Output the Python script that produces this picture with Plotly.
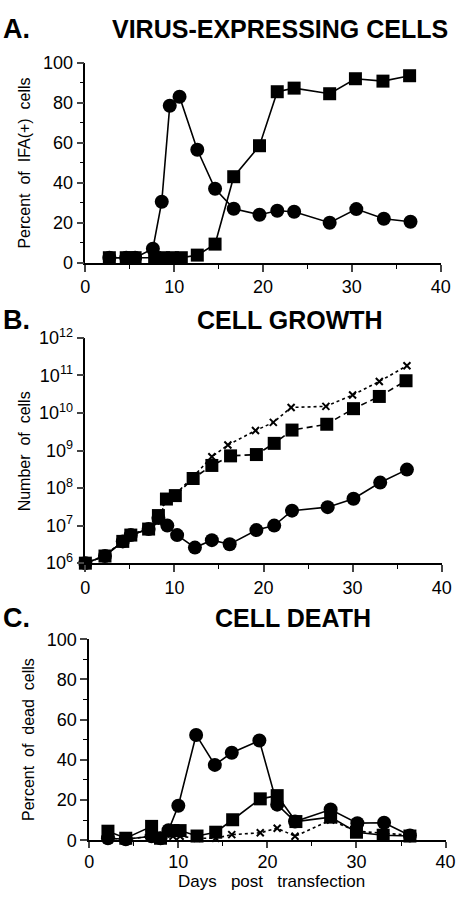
import plotly.graph_objects as go

W, H = 472, 900

# ---------------- Panel A: virus-expressing cells ----------------
a_circle_days = [2.7, 4.6, 5.6, 7.6, 8.6, 9.5, 10.6, 12.6, 14.6, 16.7, 19.6, 21.6, 23.5, 27.5, 30.5, 33.6, 36.6]
a_circle_vals = [2.5, 2.5, 2.5, 7, 30.5, 78.5, 83, 56.5, 37, 27, 24, 26, 25.5, 20, 26.8, 22, 20.5]
a_square_days = [2.7, 4.6, 5.6, 7.8, 8.8, 9.8, 10.8, 12.6, 14.6, 16.7, 19.6, 21.6, 23.5, 27.5, 30.4, 33.5, 36.5]
a_square_vals = [2.5, 2.5, 2.5, 2.5, 2.5, 2.5, 2.5, 3.8, 9.3, 43, 58.5, 85.5, 87.3, 84.5, 92, 90.8, 93.5]

# ---------------- Panel B: cell growth ----------------
b_circle_days = [0, 2.2, 4.2, 5.1, 7.1, 8.2, 9.2, 10.3, 12.3, 14.2, 16.2, 19.2, 21.2, 23.2, 27.2, 30.1, 33.1, 36.1]
b_circle_vals = [1e6, 1.55e6, 3.8e6, 5.6e6, 8.1e6, 1.6e7, 1.0e7, 5.6e6, 2.6e6, 4.1e6, 3.2e6, 7.6e6,
                 1.0e7, 2.5e7, 3.1e7, 5.2e7, 1.4e8, 3.1e8]
b_square_days = [0, 2.2, 4.2, 5.1, 7.1, 8.2, 9.1, 10.1, 12.1, 14.2, 16.3, 19.2, 21.2, 23.2, 27.1, 30.1, 33.0, 36.0]
b_square_vals = [1e6, 1.55e6, 3.8e6, 5.6e6, 8.1e6, 1.85e7, 5.1e7, 6.3e7, 1.8e8, 4.0e8, 7.2e8, 7.8e8,
                 1.55e9, 3.5e9, 5.0e9, 1.3e10, 2.75e10, 7.2e10]
b_cross_days = [0, 2.2, 4.2, 5.1, 7.1, 8.2, 9.1, 10.1, 12.1, 14.2, 16.0, 19.1, 21.1, 23.1, 27.0, 30.0, 33.0, 36.1]
b_cross_vals = [1e6, 1.6e6, 4e6, 5.8e6, 8.5e6, 1.3e7, 5.3e7, 6.8e7, 2.0e8, 6.8e8, 1.4e9, 3.4e9,
                5.6e9, 1.4e10, 1.5e10, 3.0e10, 6.9e10, 1.8e11]
b_tick_vals = [1e6, 1e7, 1e8, 1e9, 1e10, 1e11, 1e12]
b_tick_text = ["10<sup>6</sup>", "10<sup>7</sup>", "10<sup>8</sup>", "10<sup>9</sup>",
               "10<sup>10</sup>", "10<sup>11</sup>", "10<sup>12</sup>"]

# ---------------- Panel C: cell death ----------------
c_circle_days = [2.1, 4.1, 7.0, 8.0, 8.9, 10.0, 12.0, 14.1, 16.0, 19.1, 21.1, 23.1, 27.1, 30.1, 33.1, 36.0]
c_circle_vals = [1, 0.5, 2, 1, 5, 17.2, 52.4, 37.5, 43.5, 49.6, 17.7, 9.3, 15.3, 8.5, 8.7, 2.4]
c_square_days = [2.1, 4.1, 7.0, 8.0, 9.4, 10.2, 12.1, 14.2, 16.1, 19.2, 21.1, 23.2, 27.1, 30.0, 33.0, 36.0]
c_square_vals = [4.5, 1, 6.9, 1, 4.8, 4.8, 2.1, 4.0, 10.2, 20.6, 22.2, 9.3, 11.5, 4.0, 2.5, 2.1]
c_cross_days = [2.1, 4.1, 7.0, 8.0, 9.4, 10.2, 12.1, 14.2, 16.0, 19.2, 21.1, 23.1, 27.1, 30.0, 33.0, 36.0]
c_cross_vals = [1, 0.5, 2, 1, 2, 2, 1, 1, 2.8, 3.7, 6.0, 2.0, 10, 4.5, 3.5, 2.5]

x_ticks = [0, 10, 20, 30, 40]

FONT = "Liberation Sans, Arial, Helvetica, sans-serif"


def px_x(x):
    return x / W


def px_y(y):
    return 1 - y / H


fig = go.Figure()

line = dict(color="black", width=1.6)
circ = dict(symbol="circle", size=14, color="black")
sq = dict(symbol="square", size=13, color="black")
cross = dict(symbol="x-thin", size=7, color="black", line=dict(color="black", width=2))

# Panel A
fig.add_trace(go.Scatter(x=a_circle_days, y=a_circle_vals, mode="lines+markers", line=line,
                         marker=circ, xaxis="x", yaxis="y", cliponaxis=False))
fig.add_trace(go.Scatter(x=a_square_days, y=a_square_vals, mode="lines+markers", line=line,
                         marker=sq, xaxis="x", yaxis="y", cliponaxis=False))
# Panel B
fig.add_trace(go.Scatter(x=b_cross_days, y=b_cross_vals, mode="lines+markers",
                         line=dict(color="black", width=1.6, dash="dot"),
                         marker=cross, xaxis="x2", yaxis="y2", cliponaxis=False))
fig.add_trace(go.Scatter(x=b_square_days, y=b_square_vals, mode="lines+markers",
                         line=dict(color="black", width=1.6, dash="6px,4px"),
                         marker=sq, xaxis="x2", yaxis="y2", cliponaxis=False))
fig.add_trace(go.Scatter(x=b_circle_days, y=b_circle_vals, mode="lines+markers", line=line,
                         marker=circ, xaxis="x2", yaxis="y2", cliponaxis=False))
# Panel C
fig.add_trace(go.Scatter(x=c_cross_days, y=c_cross_vals, mode="lines+markers",
                         line=dict(color="black", width=1.6, dash="dot"),
                         marker=cross, xaxis="x3", yaxis="y3", cliponaxis=False))
fig.add_trace(go.Scatter(x=c_square_days, y=c_square_vals, mode="lines+markers", line=line,
                         marker=sq, xaxis="x3", yaxis="y3", cliponaxis=False))
fig.add_trace(go.Scatter(x=c_circle_days, y=c_circle_vals, mode="lines+markers", line=line,
                         marker=circ, xaxis="x3", yaxis="y3", cliponaxis=False))

tickfont = dict(family=FONT, size=18, color="black")
common_x = dict(range=[-0.001, 40], tickvals=x_ticks, ticks="outside", ticklen=7, tickwidth=1.5,
                showline=True, linecolor="black", linewidth=1.6, showgrid=False, zeroline=False,
                tickfont=tickfont, fixedrange=True,
                minor=dict(ticks="outside", ticklen=4, tickwidth=1.3, dtick=5, tickcolor="black",
                           showgrid=False))
common_y = dict(range=[0, 100], tickvals=[0, 20, 40, 60, 80, 100], ticks="outside", ticklen=7,
                tickwidth=1.5, showline=True, linecolor="black", linewidth=1.6, showgrid=False,
                zeroline=False, tickfont=tickfont, fixedrange=True,
                minor=dict(ticks="outside", ticklen=4, tickwidth=1.3, dtick=10, tickcolor="black",
                           showgrid=False))

fig.update_layout(
    width=W, height=H, margin=dict(l=0, r=0, t=0, b=0),
    paper_bgcolor="white", plot_bgcolor="white", showlegend=False,
    xaxis=dict(common_x, domain=[px_x(83), px_x(450)], anchor="y"),
    yaxis=dict(common_y, domain=[px_y(257), px_y(52)], anchor="x"),
    xaxis2=dict(common_x, domain=[px_x(83), px_x(451)], anchor="y2"),
    yaxis2=dict(type="log", range=[5.9995, 12], tickvals=b_tick_vals, ticktext=b_tick_text,
                ticks="outside", ticklen=7, tickwidth=1.5, showline=True, linecolor="black",
                linewidth=1.6, showgrid=False, zeroline=False, tickfont=tickfont,
                fixedrange=True, domain=[px_y(565), px_y(334)], anchor="x2"),
    xaxis3=dict(common_x, domain=[px_x(87), px_x(455)], anchor="y3", ticklen=6,
                ticklabelstandoff=-2),
    yaxis3=dict(common_y, domain=[px_y(849), px_y(643)], anchor="x3"),
)

ann = []


def text(x, y, s, size, bold=False, angle=0, xanchor="center"):
    ann.append(dict(x=px_x(x), y=px_y(y), xref="paper", yref="paper", text=("<b>%s</b>" % s) if bold else s,
                    showarrow=False, xanchor=xanchor, yanchor="middle", textangle=angle,
                    borderpad=0, font=dict(family=FONT, size=size, color="black")))


text(-3, 17, "A.", 27, bold=True, xanchor="left")
text(284, 17, "VIRUS-EXPRESSING CELLS", 25, bold=True)
text(20, 155, "Percent  of  IFA(+)  cells", 16, angle=-90)

text(-3, 316, "B.", 27, bold=True, xanchor="left")
text(294, 316, "CELL GROWTH", 25, bold=True)
text(20, 450, "Number  of  cells", 16, angle=-90)

text(-3, 621, "C.", 27, bold=True, xanchor="left")
text(297, 621, "CELL DEATH", 25, bold=True)
text(25, 746, "Percent  of  dead  cells", 16, angle=-90)
text(275, 891, "Days   post   transfection", 17)

fig.update_layout(annotations=ann)

fig.write_html("out.html")
